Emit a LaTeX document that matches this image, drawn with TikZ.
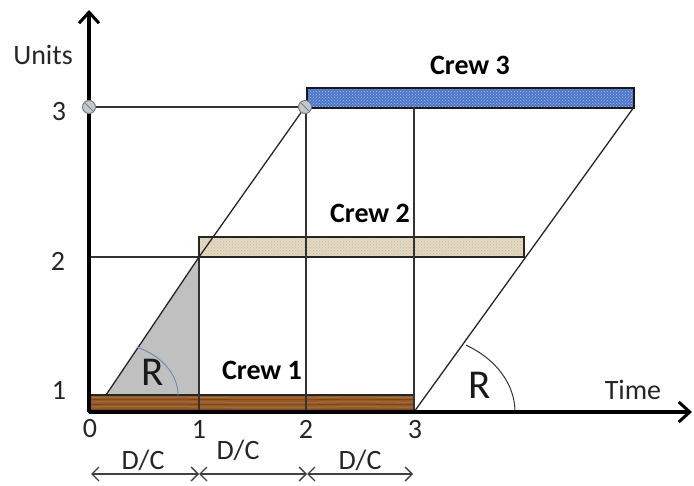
\documentclass[tikz,border=0pt]{standalone}
\usepackage{fontspec}
\setmainfont{Carlito}
\usetikzlibrary{arrows.meta,patterns,calc}
\definecolor{woodbrown}{RGB}{150,90,42}
\definecolor{wooddark}{RGB}{105,60,24}
\definecolor{woodlight}{RGB}{185,125,70}
\definecolor{sandfill}{RGB}{228,218,194}
\definecolor{sanddot}{RGB}{198,186,158}
\definecolor{crewblue}{RGB}{78,118,200}
\definecolor{crewbluelight}{RGB}{165,192,236}
\definecolor{rampgray}{RGB}{192,192,192}
\definecolor{arcblue}{RGB}{110,145,180}
\definecolor{pingray}{RGB}{196,200,208}
\tikzset{
  axisline/.style={line width=3.2pt,-{Straight Barb[length=11pt,width=20pt,line width=3pt]}},
  gridline/.style={line width=1.2pt,draw=black!80},
  diagline/.style={line width=1.3pt,draw=black!85},
  crewbar/.style={draw=black!85,line width=1.1pt},
  ticklabel/.style={font=\fontsize{28}{32}\selectfont,text=black!85},
  crewlabel/.style={font=\fontsize{28}{32}\selectfont\bfseries},
  ratelabel/.style={font=\fontsize{41}{44}\selectfont,text=black!90},
  span/.style={line width=1.4pt,draw=black!75,{Straight Barb[length=7pt,width=14pt,line width=1.4pt]}-{Straight Barb[length=7pt,width=14pt,line width=1.4pt]}},
  pin/.style={circle,draw=black!50,fill=pingray,line width=1pt,minimum size=13pt,inner sep=0pt},
  pinstroke/.style={draw=black!50,line width=1pt,shorten <=1.5pt,shorten >=1.5pt},
}
\begin{document}
\begin{tikzpicture}[x=1pt,y=-1pt]
\useasboundingbox (0,0) rectangle (694,486);
\fill[white] (0,0) rectangle (694,486);

% reference points
\coordinate (O)  at (89,412);
\coordinate (T1) at (199,412);
\coordinate (T2) at (306,412);
\coordinate (T3) at (414,412);
\coordinate (S1) at (106,395);
\coordinate (A2) at (199,257);
\coordinate (L2) at (89,257);
\coordinate (A3) at (305,107);
\coordinate (L3) at (89,107);
\coordinate (E3) at (634,107);
\coordinate (V3) at (414,107);
\coordinate (V2) at (306,107);
\coordinate (YT) at (89,10);
\coordinate (XT) at (692,412);

% shaded start-up ramp of crew 1
\fill[rampgray] (S1) -- (A2) -- (199,395) -- cycle;

% crew bars
% crew 1 (wood)
\fill[woodbrown] (89,395) rectangle (414,412);
\foreach \yy/\cc in {397.5/woodlight,399.5/wooddark,402/woodlight,404.5/wooddark,407/woodlight,409.5/wooddark}{
  \draw[\cc,line width=0.8pt,opacity=0.65]
    (89,\yy) .. controls (170,\yy-1.2) and (250,\yy+1.2) .. (330,\yy)
             .. controls (370,\yy-0.8) and (400,\yy+0.6) .. (414,\yy);
}
\draw[crewbar] (89,395) rectangle (414,412);
% crew 2 (sand)
\fill[sandfill] (199,237) rectangle (524,257);
\fill[pattern=crosshatch dots,pattern color=sanddot] (199,237) rectangle (524,257);
\draw[crewbar] (199,237) rectangle (524,257);
% crew 3 (blue)
\fill[crewblue] (307,88) rectangle (634,108);
\fill[pattern=crosshatch dots,pattern color=crewbluelight] (307,88) rectangle (634,108);
\draw[crewbar,draw=black!90] (307,88) rectangle (634,108);

% level and time guide lines
\draw[gridline] (L2) -- (A2);
\draw[gridline] (L3) -- (A3);
\draw[gridline] (A2) -- (T1);
\draw[gridline] (V2) -- (T2);
\draw[gridline] (V3) -- (T3);

% progress lines
\draw[diagline] (S1) -- (A2);
\draw[diagline] (A2) -- (A3);
\draw[diagline] (T3) -- (E3);

% rate arcs
\draw[arcblue,line width=1pt] plot[domain=-64.5:0,smooth,variable=\t] ({106+72*cos(\t)},{395+53*sin(\t)});
\draw[black!80,line width=1pt] plot[domain=-59:0,smooth,variable=\t] ({414+101*cos(\t)},{412+78*sin(\t)});

% axes
\draw[axisline] (O) -- (YT);
\draw[axisline] (O) -- (XT);

% pins at level 3
\node[pin] (P1) at (L3) {};
\draw[pinstroke] (P1.north west) -- (P1.south east);
\node[pin] (P2) at (A3) {};
\draw[pinstroke] (P2.north west) -- (P2.south east);

% axis labels
\node[ticklabel] (units) at (43,55) {Units};
\node[ticklabel] (time)  at (633,390) {Time};
\node[ticklabel] (y1) at (59,390) {1};
\node[ticklabel] (y2) at (58,261) {2};
\node[ticklabel] (y3) at (59,112) {3};
\node[ticklabel] (x0) at (90,429) {0};
\node[ticklabel] (x1) at (199,429) {1};
\node[ticklabel] (x2) at (306,429) {2};
\node[ticklabel] (x3) at (415,430) {3};

% crew labels
\node[crewlabel] (c1) at (262,370) {Crew 1};
\node[crewlabel] (c2) at (370,213) {Crew 2};
\node[crewlabel] (c3) at (470,65) {Crew 3};

% rate labels
\node[ratelabel] (r1) at (153,372) {R};
\node[ratelabel] (r2) at (480,385) {R};

% durations
\coordinate (d0) at (91,474);
\coordinate (d1) at (199,474);
\coordinate (d2) at (307,474);
\coordinate (d3) at (413,474);
\draw[span] (d0) -- (d1);
\draw[span] (d1) -- (d2);
\draw[span] (d2) -- (d3);
\node[ticklabel] (dc1) at (143,460) {D/C};
\node[ticklabel] (dc2) at (238,450) {D/C};
\node[ticklabel] (dc3) at (360,460) {D/C};
\end{tikzpicture}
\end{document}
